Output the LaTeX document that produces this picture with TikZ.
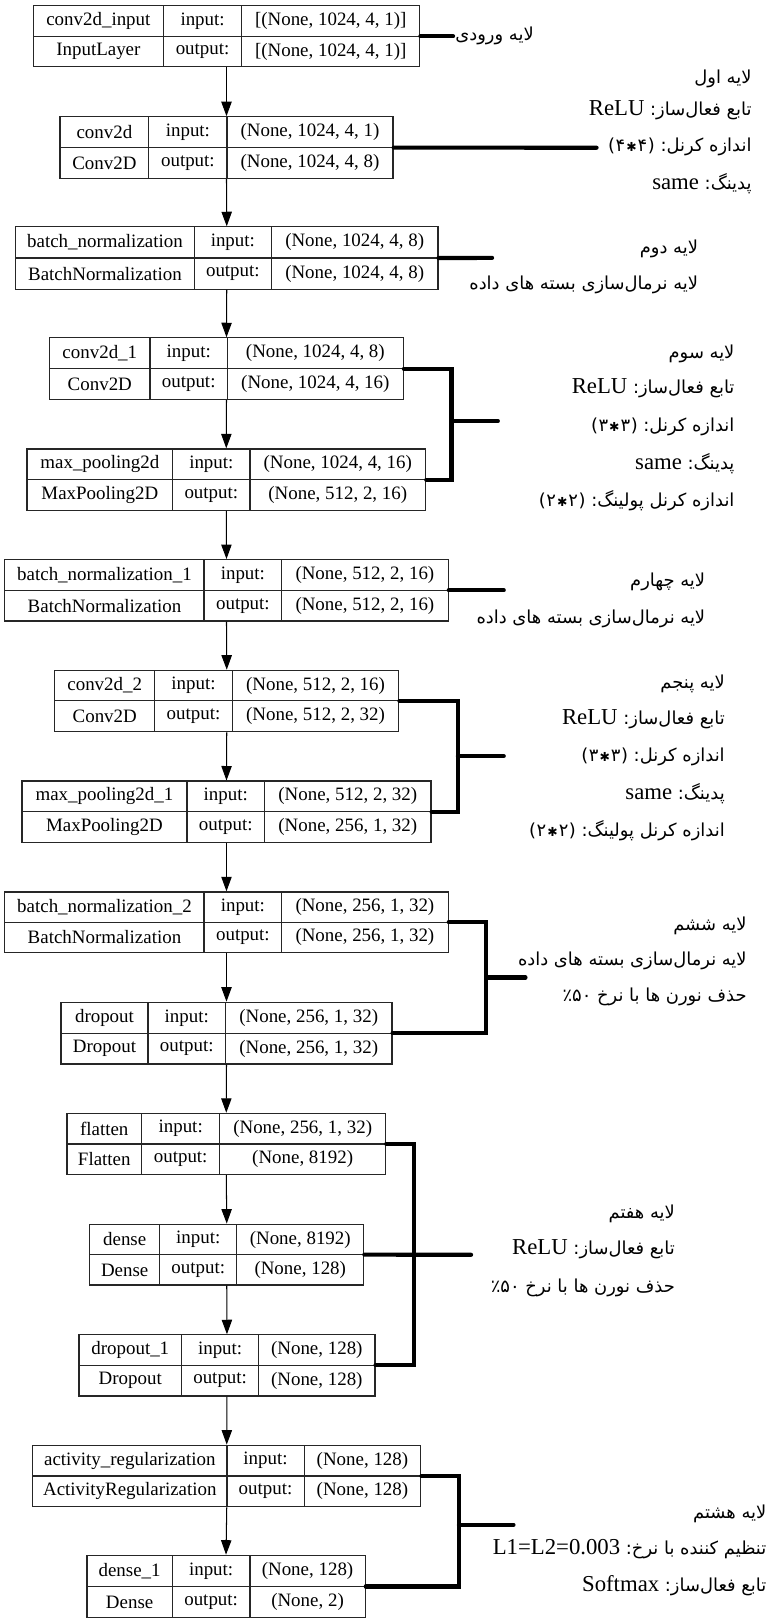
\documentclass[tikz,border=0pt]{standalone}
\usepackage{fontspec}
\setmainfont{Liberation Serif}
\newfontfamily\fa[Script=Arabic]{DejaVu Sans}
\newfontfamily\dv{DejaVu Sans}
\TeXXeTstate=1
\usetikzlibrary{fit,arrows.meta}
\newcommand\farsi{\fa\fontsize{17.3}{19}\selectfont}
\newcommand\dvs{\dv\fontsize{17.3}{19}\selectfont}
\newcommand\stx{{\dv\fontsize{12}{13}\selectfont ✱}}
% visual "(d*d)" built from separate LTR pieces
\newcommand\kpair[1]{{\dvs(}\kern0.5pt{\farsi #1}\kern1pt\stx\kern1pt{\farsi #1}\kern0.5pt{\dvs)}}
\newcommand\pfifty{{\dvs ٪}{\farsi ۵}\kern0pt{\farsi ۰}}
\tikzset{
  boxline/.style={draw=black!85, line width=1.2pt},
  cell/.style={inner sep=0pt, font=\fontsize{18.3}{20}\selectfont},
  arr/.style={line width=1pt, -{Triangle[length=14pt,width=10pt]}},
  fatline/.style={line width=4pt, line cap=round, line join=miter},
  rtxt/.style={anchor=east, inner sep=0pt, font=\fontsize{22}{24}\selectfont},
}
\newcommand\lbox[8]{%
  \coordinate (#1-nw) at (#2,#6);
  \coordinate (#1-se) at (#5,#8);
  \node[fit=(#1-nw)(#1-se), inner sep=0pt, boxline] (#1) {};
  \draw[boxline] (#2,#7) -- (#5,#7) (#3,#6) -- (#3,#8) (#4,#6) -- (#4,#8);
  \gdef\Xa{#2}\gdef\Xb{#3}\gdef\Xc{#4}\gdef\Xd{#5}\gdef\Ya{#6}\gdef\Ym{#7}\gdef\Yb{#8}%
}
\newcommand\ltext[7]{%
  \node[cell] (#1-a) at ({(\Xa+\Xb)/2},{(\Ya+\Ym)/2}) {#2};
  \node[cell] (#1-b) at ({(\Xb+\Xc)/2},{(\Ya+\Ym)/2}) {#3};
  \node[cell] (#1-c) at ({(\Xc+\Xd)/2},{(\Ya+\Ym)/2}) {#4};
  \node[cell] (#1-d) at ({(\Xa+\Xb)/2},{(\Ym+\Yb)/2}) {#5};
  \node[cell] (#1-e) at ({(\Xb+\Xc)/2},{(\Ym+\Yb)/2}) {#6};
  \node[cell] (#1-f) at ({(\Xc+\Xd)/2},{(\Ym+\Yb)/2}) {#7};
}
\begin{document}
\begin{tikzpicture}[x=1pt,y=-1pt]
\fill[white] (0,0) rectangle (740,1568);
\useasboundingbox (0,0) rectangle (740,1568);

% ---- boxes ----
\lbox{b1}{32.1}{158.1}{233.6}{405.8}{5.5}{35}{64.5}
\ltext{b1}{conv2d\_input}{input:}{[(None, 1024, 4, 1)]}{InputLayer}{output:}{[(None, 1024, 4, 1)]}
\lbox{b2}{58}{143.9}{219.4}{379.9}{112.9}{142.8}{172.5}
\ltext{b2}{conv2d}{input:}{(None, 1024, 4, 1)}{Conv2D}{output:}{(None, 1024, 4, 8)}
\lbox{b3}{15.1}{187.8}{262.4}{423.3}{219.3}{249.3}{279.6}
\ltext{b3}{batch\_normalization}{input:}{(None, 1024, 4, 8)}{BatchNormalization}{output:}{(None, 1024, 4, 8)}
\lbox{b4}{48.1}{144.9}{219.9}{389.8}{326.6}{356.3}{386.3}
\ltext{b4}{conv2d\_1}{input:}{(None, 1024, 4, 8)}{Conv2D}{output:}{(None, 1024, 4, 16)}
\lbox{b5}{26}{167}{241.6}{411.5}{434}{463.7}{493.3}
\ltext{b5}{max\_pooling2d}{input:}{(None, 1024, 4, 16)}{MaxPooling2D}{output:}{(None, 512, 2, 16)}
\lbox{b6}{4.7}{197.3}{272.3}{433.2}{541}{570.7}{600.4}
\ltext{b6}{batch\_normalization\_1}{input:}{(None, 512, 2, 16)}{BatchNormalization}{output:}{(None, 512, 2, 16)}
\lbox{b7}{52.9}{149.6}{224.6}{385.5}{648}{677.4}{707.4}
\ltext{b7}{conv2d\_2}{input:}{(None, 512, 2, 16)}{Conv2D}{output:}{(None, 512, 2, 32)}
\lbox{b8}{21.2}{180.7}{255.8}{416.7}{755.1}{784.5}{814.5}
\ltext{b8}{max\_pooling2d\_1}{input:}{(None, 512, 2, 32)}{MaxPooling2D}{output:}{(None, 256, 1, 32)}
\lbox{b9}{4.7}{197.3}{272.3}{433.2}{862.2}{891.5}{920.9}
\ltext{b9}{batch\_normalization\_2}{input:}{(None, 256, 1, 32)}{BatchNormalization}{output:}{(None, 256, 1, 32)}
\lbox{b10}{59}{143}{218}{378.9}{968.9}{998.9}{1028.5}
\ltext{b10}{dropout}{input:}{(None, 256, 1, 32)}{Dropout}{output:}{(None, 256, 1, 32)}
\lbox{b11}{64.7}{136.9}{212.4}{372.8}{1076.3}{1106}{1135.3}
\ltext{b11}{flatten}{input:}{(None, 256, 1, 32)}{Flatten}{output:}{(None, 8192)}
\lbox{b12}{86.8}{154.3}{228.9}{351.6}{1183.4}{1213}{1242.3}
\ltext{b12}{dense}{input:}{(None, 8192)}{Dense}{output:}{(None, 128)}
\lbox{b13}{76.4}{175.5}{250.1}{362.4}{1290.4}{1319.7}{1349.4}
\ltext{b13}{dropout\_1}{input:}{(None, 128)}{Dropout}{output:}{(None, 128)}
\lbox{b14}{31.6}{219.4}{294}{406.8}{1397.1}{1426.8}{1456.5}
\ltext{b14}{activity\_regularization}{input:}{(None, 128)}{ActivityRegularization}{output:}{(None, 128)}
\lbox{b15}{84}{166.6}{241.6}{353}{1503.5}{1533.8}{1563.8}
\ltext{b15}{dense\_1}{input:}{(None, 128)}{Dense}{output:}{(None, 2)}

% ---- arrows ----
\foreach \p/\q in {b1/b2,b2/b3,b3/b4,b4/b5,b5/b6,b6/b7,b7/b8,b8/b9,b9/b10,b10/b11,b11/b12,b12/b13,b13/b14,b14/b15}
  \draw[arr] (\p.south) -- (\q.north);

% ---- thick connectors ----
\coordinate (e0) at (438,35);
\draw[fatline] (b1.east) -- (e0);
\coordinate (e1) at (576.7,142.8);
\draw[fatline] (b2.east) -- (e1);
\coordinate (e2) at (475.7,249.3);
\draw[fatline] (b3.east) -- (e2);
\coordinate (k3) at (436.5,407);
\coordinate (e3) at (481.3,407);
\draw[fatline] (b4.east) -| (k3) |- (b5.east);
\draw[fatline] (k3) -- (e3);
\coordinate (e4) at (487,570.7);
\draw[fatline] (b6.east) -- (e4);
\coordinate (k5) at (442.6,731);
\coordinate (e5) at (487,731);
\draw[fatline] (b7.east) -| (k5) |- (b8.east);
\draw[fatline] (k5) -- (e5);
\coordinate (k6) at (470,945);
\coordinate (e6) at (508,945);
\draw[fatline] (b9.east) -| (k6) |- (b10.east);
\draw[fatline] (k6) -- (e6);
\coordinate (k7) at (400.2,1213);
\coordinate (e7) at (455.4,1213);
\draw[fatline] (b11.east) -| (k7) |- (b13.east);
\draw[fatline] (b12.east) -- (e7);
\coordinate (k8) at (443.6,1474);
\coordinate (e8) at (496.4,1474);
\draw[fatline] (b14.east) -| (k8) |- (b15.east);
\draw[fatline] (k8) -- (e8);

% ---- annotations ----
\node[rtxt, anchor=west] (t0) at (440,35) {\farsi\beginR لایه ورودی\endR};

\node[rtxt] (t1a) at (726.7,75.8) {\farsi\beginR لایه اول\endR};
\node[rtxt] (t1b) at (726.7,106.4) {ReLU {\farsi\beginR تابع فعال‌ساز:\endR}};
\node[rtxt] (t1c) at (726.7,141.9) {\kpair{۴} {\farsi\beginR اندازه کرنل:\endR}};
\node[rtxt] (t1d) at (726.7,177.3) {same {\farsi\beginR پدینگ:\endR}};

\node[rtxt] (t2a) at (675,240.2) {\farsi\beginR لایه دوم\endR};
\node[rtxt] (t2b) at (675,275.7) {\farsi\beginR لایه نرمال‌سازی بسته های داده\endR};

\node[rtxt] (t3a) at (710.2,341.8) {\farsi\beginR لایه سوم\endR};
\node[rtxt] (t3b) at (710.2,375.6) {ReLU {\farsi\beginR تابع فعال‌ساز:\endR}};
\node[rtxt] (t3c) at (710.2,412.7) {\kpair{۳} {\farsi\beginR اندازه کرنل:\endR}};
\node[rtxt] (t3d) at (710.2,448.2) {same {\farsi\beginR پدینگ:\endR}};
\node[rtxt] (t3e) at (710.2,483.7) {\kpair{۲} {\farsi\beginR اندازه کرنل پولینگ:\endR}};

\node[rtxt] (t4a) at (681.9,562.7) {\farsi\beginR لایه چهارم\endR};
\node[rtxt] (t4b) at (681.9,598.1) {\farsi\beginR لایه نرمال‌سازی بسته های داده\endR};

\node[rtxt] (t5a) at (700.8,661) {\farsi\beginR لایه پنجم\endR};
\node[rtxt] (t5b) at (700.8,694.8) {ReLU {\farsi\beginR تابع فعال‌ساز:\endR}};
\node[rtxt] (t5c) at (700.8,731.3) {\kpair{۳} {\farsi\beginR اندازه کرنل:\endR}};
\node[rtxt] (t5d) at (700.8,766.8) {same {\farsi\beginR پدینگ:\endR}};
\node[rtxt] (t5e) at (700.8,802.9) {\kpair{۲} {\farsi\beginR اندازه کرنل پولینگ:\endR}};

\node[rtxt] (t6a) at (722,894.8) {\farsi\beginR لایه ششم\endR};
\node[rtxt] (t6b) at (722,928.6) {\farsi\beginR لایه نرمال‌سازی بسته های داده\endR};
\node[rtxt] (t6c) at (722,964.1) {\pfifty\ {\farsi\beginR حذف نورن ها با نرخ\endR}};

\node[rtxt] (t7a) at (652.6,1173.7) {\farsi\beginR لایه هفتم\endR};
\node[rtxt] (t7b) at (652.6,1207.5) {ReLU {\farsi\beginR تابع فعال‌ساز:\endR}};
\node[rtxt] (t7c) at (652.6,1244.6) {\pfifty\ {\farsi\beginR حذف نورن ها با نرخ\endR}};

\node[rtxt] (t8a) at (741,1463) {\farsi\beginR لایه هشتم\endR};
\node[rtxt] (t8b) at (741,1498) {L1=L2=0.003 {\farsi\beginR تنظیم کننده با نرخ:\endR}};
\node[rtxt] (t8c) at (741,1533) {Softmax {\farsi\beginR تابع فعال‌ساز:\endR}};
\end{tikzpicture}
\end{document}
